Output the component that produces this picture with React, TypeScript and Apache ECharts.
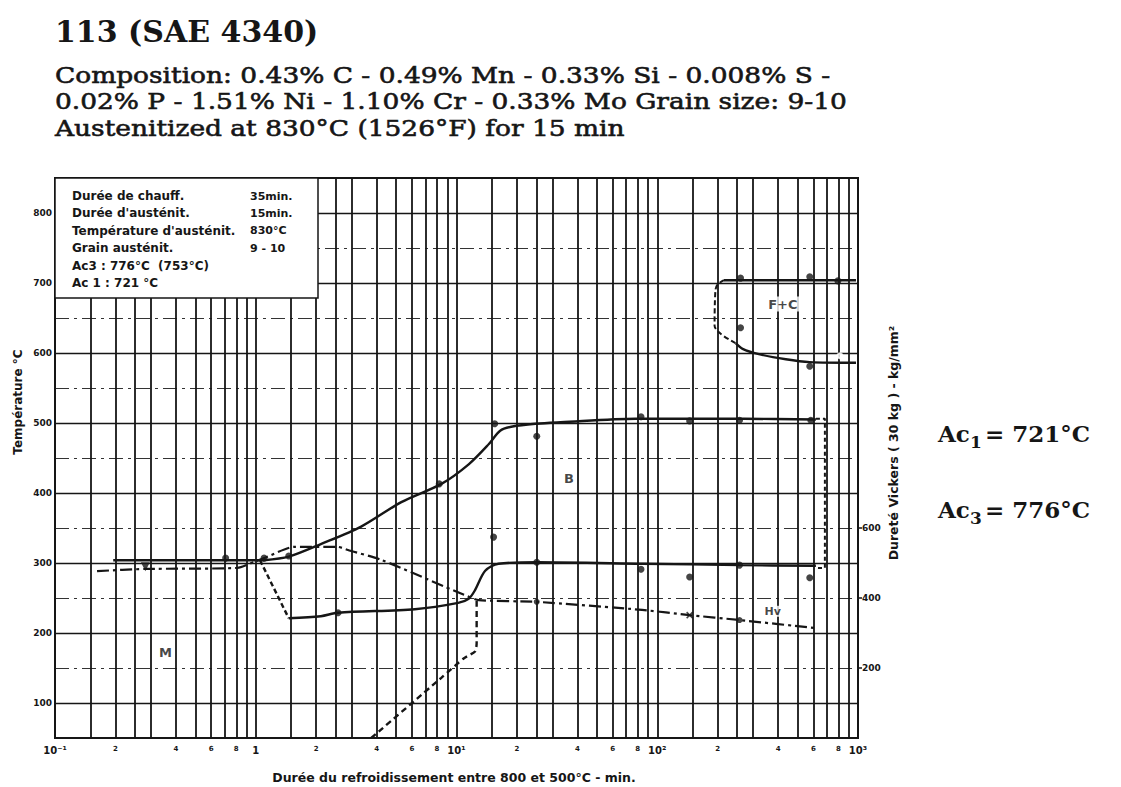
import React, { useEffect, useRef } from 'react';
import * as echarts from 'echarts';

// ---------- texts ----------
const titleText = '113 (SAE 4340)';
const subtitleLines = [
  'Composition: 0.43% C - 0.49% Mn - 0.33% Si - 0.008% S -',
  '0.02% P - 1.51% Ni - 1.10% Cr - 0.33% Mo Grain size: 9-10',
  'Austenitized at 830°C (1526°F) for 15 min',
];
const infoLeft = [
  'Durée de chauff.',
  "Durée d'austénit.",
  "Température d'austénit.",
  'Grain austénit.',
  'Ac3 : 776°C  (753°C)',
  'Ac 1 : 721 °C',
];
const infoRight = ['35min.', '15min.', '830°C', '9 - 10', '', ''];
const xAxisTitle = 'Durée du refroidissement entre 800 et 500°C - min.';
const yAxisTitle = 'Température °C';
const hvAxisTitle = 'Dureté Vickers ( 30 kg ) - kg/mm²';

// ---------- axes ----------
const xLabelValues = [0.1, 0.2, 0.4, 0.6, 0.8, 1, 2, 4, 6, 8, 10, 20, 40, 60, 80, 100, 200, 400, 600, 800, 1000];
const xLabelTexts = ['10⁻¹', '2', '4', '6', '8', '1', '2', '4', '6', '8', '10¹', '2', '4', '6', '8', '10²', '2', '4', '6', '8', '10³'];
const xGridMantissas = [1, 1.5, 2, 2.5, 3, 4, 5, 6, 7, 8, 9];
const xGridDecades = [0.1, 1, 10, 100];
const tempTicks = [100, 200, 300, 400, 500, 600, 700, 800];
const tempHalfTicks = [150, 250, 350, 450, 550, 650, 750];
const hvTicks = [200, 400, 600];

// ---------- curves (time in min, temperature in °C) ----------
const msLine = [[0.195, 304], [1.1, 304]];
const bainiteStart = [
  [1.1, 304], [1.46, 309], [2.11, 327], [3.35, 352], [5.31, 387], [8.41, 413],
  [11.5, 441], [14.5, 470], [16.5, 489], [19, 495], [25, 499], [33, 501],
  [78, 506], [270, 506], [617, 505],
];
const lowerDrop = [[1.05, 304], [1.46, 221]];
const bainiteLower = [
  [1.46, 221], [2.11, 224], [2.57, 229], [6.2, 234], [10.2, 243], [11.5, 249],
  [12.3, 260], [13.9, 289], [16.2, 299], [25.1, 301], [84, 299], [257, 297], [617, 296],
];
const finishLine = [[3.76, 50], [8.4, 136], [10.9, 164], [12.4, 174], [12.6, 186], [12.6, 250]];
const endBracket = [[617, 506], [684, 506], [684, 293], [617, 293]];
const fcTop = [[215, 704], [977, 704]];
const fcLeft = [[215, 704], [200, 698], [195, 690], [193, 639], [246, 614]];
const fcBottom = [[246, 614], [266, 606], [325, 598], [437, 591], [575, 587], [977, 586]];

// hardness HV (kg/mm²)
const hardness = [
  [0.162, 477], [0.282, 483], [0.81, 486], [0.98, 503], [1.1, 514], [1.55, 546],
  [2.57, 546], [2.88, 537], [4.22, 509], [10.9, 409], [12.9, 394], [25.1, 389],
  [84, 366], [145, 351], [257, 337], [617, 314],
];

// measured points
const tempDots = [
  [0.708, 307], [1.1, 307], [1.46, 310], [8.2, 413], [15.5, 499], [25.1, 481],
  [83, 509], [145, 503], [257, 504], [582, 504],
  [2.57, 229], [15.3, 337], [25.1, 301], [83, 291], [145, 280], [257, 297], [575, 279],
  [260, 707], [575, 709], [794, 703], [260, 636], [575, 581],
];
const openMarks = [[813, 596]];
const hvDots = [[25.1, 389], [257, 337]];
const hvTriangle = [[0.282, 489]];
const hvCross = [[145, 351]];

// region labels
const regionLabels = [
  { name: 'M', value: [0.355, 172] },
  { name: 'B', value: [36.3, 421] },
  { name: 'F+C', value: [422, 670] },
];
const hvLabel = [{ name: 'Hv', value: [376, 362] }];

const INK = '#161616';
const SANS = '"DejaVu Sans", "Liberation Sans", sans-serif';
const SERIF = '"DejaVu Serif", "Liberation Serif", serif';

const lg = (v: number) => Math.round(Math.log10(v) * 1e9) / 1e9;

function lineSeries(data: number[][], type: any = 'solid', smooth: number | boolean = 0.3, yAxisIndex = 0, width = 2.4) {
  return {
    type: 'line',
    data,
    xAxisIndex: 0,
    yAxisIndex,
    smooth,
    symbol: 'none',
    silent: true,
    z: 5,
    lineStyle: { color: INK, width, type },
  };
}

function buildOption() {
  const gridVals: number[] = [];
  xGridDecades.forEach((d) => xGridMantissas.forEach((m) => gridVals.push(lg(d * m))));
  gridVals.push(3);
  const labelLogs = xLabelValues.map(lg);

  const graphic: any[] = [];
  graphic.push({
    type: 'text', x: 55, y: 31, z: 100,
    style: { text: titleText, font: `bold 30px ${SERIF}`, fill: INK, verticalAlign: 'middle' },
  });
  subtitleLines.forEach((t, i) => {
    graphic.push({
      type: 'text', x: 55, y: 75 + i * 26.5, z: 100, scaleX: 1.15,
      style: { text: t, font: `23px ${SERIF}`, fill: INK, stroke: INK, lineWidth: 0.6, verticalAlign: 'middle' },
    });
  });
  // info box
  graphic.push({
    type: 'rect', z: 100,
    shape: { x: 55, y: 178, width: 263, height: 120 },
    style: { fill: '#fff', stroke: INK, lineWidth: 1.5 },
  });
  infoLeft.forEach((t, i) => {
    graphic.push({
      type: 'text', x: 72, y: 196 + i * 17.4, z: 101,
      style: { text: t, font: `bold 12px ${SANS}`, fill: INK, verticalAlign: 'middle' },
    });
    if (infoRight[i]) {
      graphic.push({
        type: 'text', x: 250, y: 196 + i * 17.4, z: 101,
        style: { text: infoRight[i], font: `bold 11px ${SANS}`, fill: INK, verticalAlign: 'middle' },
      });
    }
  });
  // axis titles
  graphic.push({
    type: 'text', x: 18, y: 402, rotation: Math.PI / 2, z: 100,
    style: { text: yAxisTitle, font: `bold 12px ${SANS}`, fill: INK, align: 'center', verticalAlign: 'middle' },
  });
  graphic.push({
    type: 'text', x: 893, y: 443, rotation: Math.PI / 2, z: 100,
    style: { text: hvAxisTitle, font: `bold 12.5px ${SANS}`, fill: INK, align: 'center', verticalAlign: 'middle' },
  });
  graphic.push({
    type: 'text', x: 454, y: 777, z: 100,
    style: { text: xAxisTitle, font: `bold 12.5px ${SANS}`, fill: INK, align: 'center', verticalAlign: 'middle' },
  });
  // Ac1 / Ac3
  const acs: [string, string, number][] = [['1', '721°C', 433], ['3', '776°C', 509]];
  acs.forEach(([sub, val, y]) => {
    graphic.push({ type: 'text', x: 938, y, z: 100, style: { text: 'Ac', font: `bold 23px ${SERIF}`, fill: INK, verticalAlign: 'middle' } });
    graphic.push({ type: 'text', x: 970, y: y + 9, z: 100, style: { text: sub, font: `bold 17px ${SERIF}`, fill: INK, verticalAlign: 'middle' } });
    graphic.push({ type: 'text', x: 985, y, z: 100, style: { text: '= ' + val, font: `bold 23px ${SERIF}`, fill: INK, verticalAlign: 'middle' } });
  });

  return {
    animation: false,
    backgroundColor: '#fff',
    grid: { left: 55, top: 178, width: 803, height: 560, show: true, borderColor: INK, borderWidth: 2, backgroundColor: 'transparent' },
    xAxis: [
      { type: 'log', logBase: 10, min: 0.1, max: 1000, position: 'bottom', show: false },
      {
        type: 'value', min: -1, max: 3, position: 'bottom',
        axisLine: { show: false },
        axisTick: { show: false, customValues: gridVals },
        splitLine: { show: true, lineStyle: { color: INK, width: 1.8 } },
        axisLabel: {
          customValues: labelLogs,
          margin: 7,
          formatter: (v: number) => {
            let idx = 0;
            let best = 1e9;
            labelLogs.forEach((l, i) => { if (Math.abs(l - v) < best) { best = Math.abs(l - v); idx = i; } });
            const txt = xLabelTexts[idx];
            return txt.startsWith('10') || txt === '1' ? `{d|${txt}}` : `{m|${txt}}`;
          },
          rich: {
            d: { fontSize: 10, fontWeight: 'bold', fontFamily: SANS, color: INK },
            m: { fontSize: 7, fontWeight: 'bold', fontFamily: SANS, color: INK },
          },
        },
      },
    ],
    yAxis: [
      {
        type: 'value', min: 50, max: 850, interval: 50, position: 'left',
        axisLine: { show: false },
        axisTick: { show: false, customValues: tempTicks },
        axisLabel: { customValues: tempTicks, margin: 3, fontSize: 9, fontWeight: 'bold', fontFamily: SANS, color: INK },
        splitLine: { show: true, lineStyle: { color: INK, width: 1.3 } },
      },
      {
        type: 'value', min: 0, max: 1600, interval: 200, position: 'right',
        axisLine: { show: false },
        axisTick: { show: true, customValues: hvTicks, length: 4, inside: false, lineStyle: { color: INK, width: 1.5 } },
        axisLabel: { customValues: hvTicks, margin: 4, fontSize: 9, fontWeight: 'bold', fontFamily: SANS, color: INK },
        splitLine: { show: false },
      },
      {
        type: 'value', min: 50, max: 850, interval: 50, position: 'left',
        axisLine: { show: false },
        axisTick: { show: false, customValues: tempHalfTicks },
        axisLabel: { show: false },
        splitLine: { show: true, lineStyle: { color: '#333', width: 1.2, type: [14, 5, 3, 5] } },
      },
    ],
    graphic,
    series: [
      lineSeries(msLine, 'solid', false, 0, 2.6),
      lineSeries(bainiteStart, 'solid', 0.3),
      lineSeries(lowerDrop, [5, 3], false),
      lineSeries(bainiteLower, 'solid', 0.3),
      lineSeries(finishLine, [6, 4], 0.2),
      lineSeries(endBracket, [4, 3], false, 0, 2),
      lineSeries(fcTop, 'solid', false),
      lineSeries(fcLeft, [5, 3], 0.3, 0, 2),
      lineSeries(fcBottom, 'solid', 0.3),
      lineSeries(hardness, [12, 4, 3, 4], 0.2, 1, 2.2),
      {
        type: 'scatter', data: tempDots, xAxisIndex: 0, yAxisIndex: 0, symbol: 'circle', symbolSize: 7, z: 6, silent: true,
        itemStyle: { color: INK },
      },
      {
        type: 'scatter', data: openMarks, xAxisIndex: 0, yAxisIndex: 0, symbol: 'emptyCircle', symbolSize: 5, z: 6, silent: true,
        itemStyle: { color: '#fff', borderColor: INK, borderWidth: 1.5 },
      },
      {
        type: 'scatter', data: hvDots, xAxisIndex: 0, yAxisIndex: 1, symbol: 'circle', symbolSize: 6, z: 6, silent: true,
        itemStyle: { color: INK },
      },
      {
        type: 'scatter', data: hvTriangle, xAxisIndex: 0, yAxisIndex: 1, symbol: 'triangle', symbolRotate: 180, symbolSize: 9, z: 6, silent: true,
        itemStyle: { color: INK },
      },
      {
        type: 'scatter', data: hvCross, xAxisIndex: 0, yAxisIndex: 1, symbol: 'path://M0,0L10,10M10,0L0,10', symbolSize: 6, z: 6, silent: true,
        itemStyle: { color: 'none', borderColor: INK, borderWidth: 1.5 },
      },
      {
        type: 'scatter', data: regionLabels, xAxisIndex: 0, yAxisIndex: 0, symbolSize: 0, z: 7, silent: true,
        label: { show: true, position: 'inside', formatter: (p: any) => p.name, fontSize: 13, fontWeight: 'bold', fontFamily: SANS, color: INK, backgroundColor: '#fff', padding: [1, 2] },
      },
      {
        type: 'scatter', data: hvLabel, xAxisIndex: 0, yAxisIndex: 1, symbolSize: 0, z: 7, silent: true,
        label: { show: true, position: 'inside', formatter: (p: any) => p.name, fontSize: 11, fontWeight: 'bold', fontFamily: SANS, color: INK, backgroundColor: '#fff', padding: [0, 1] },
      },
    ],
  };
}

export default function App() {
  const ref = useRef<HTMLDivElement>(null);
  useEffect(() => {
    if (!ref.current) return;
    const chart = echarts.init(ref.current, null, { renderer: 'svg' });
    chart.setOption(buildOption() as any);
    return () => chart.dispose();
  }, []);
  return (
    <div
      ref={ref}
      style={{ position: 'fixed', left: 0, top: 0, width: 1121, height: 787, background: '#fff' }}
    />
  );
}
